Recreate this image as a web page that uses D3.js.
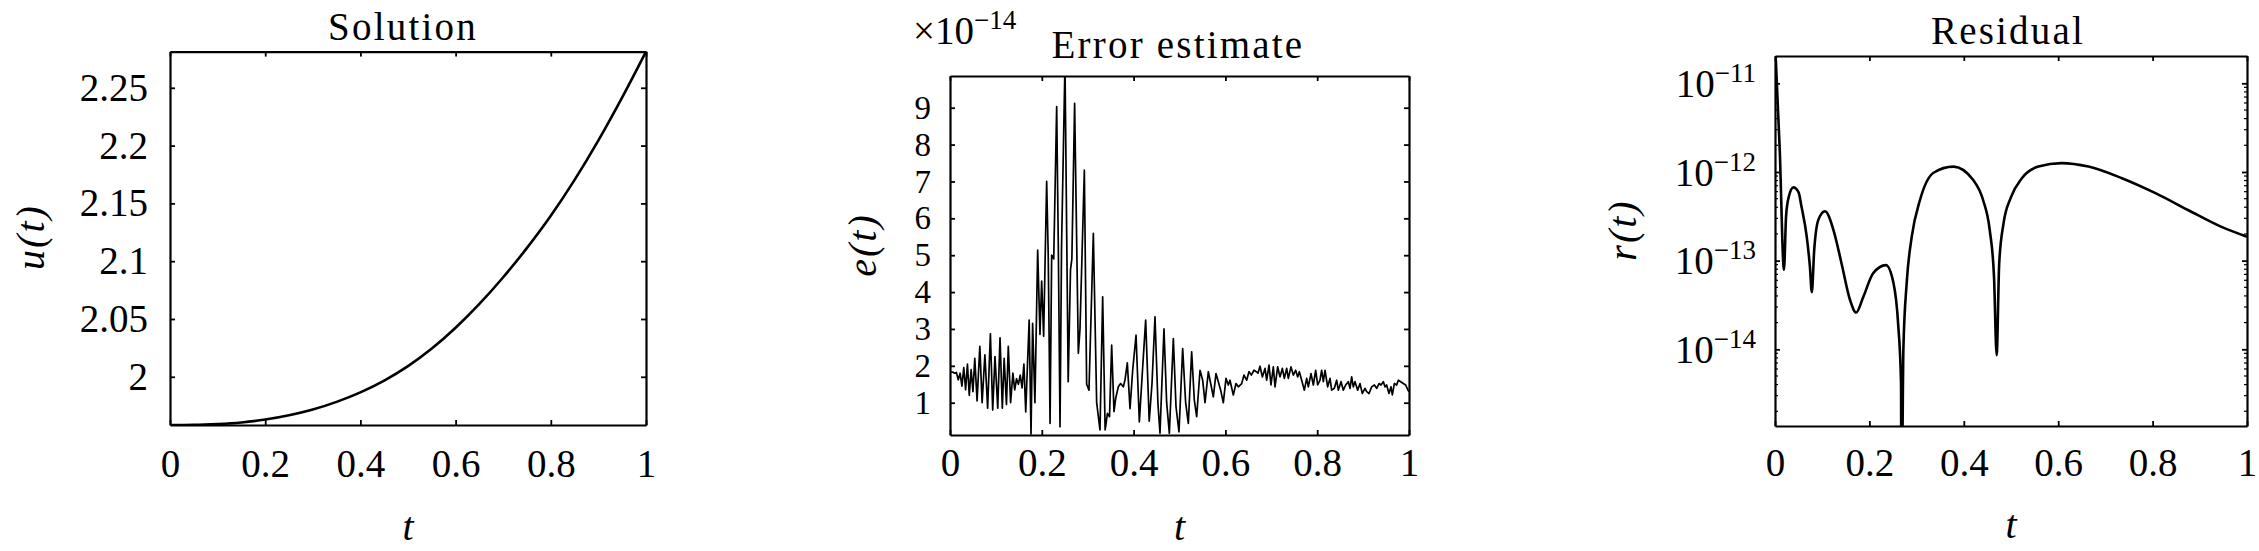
<!DOCTYPE html>
<html>
<head>
<meta charset="utf-8">
<script src="https://cdn.jsdelivr.net/npm/d3@7"></script>
<style>
body { margin: 0; background: #fff; }
svg text { font-family: "Liberation Serif", "Times New Roman", serif; fill: #000; }
</style>
</head>
<body>
<svg id="chart" width="2259" height="551"></svg>
<script>

// ---- data ----
var tTicks = [0, 0.2, 0.4, 0.6, 0.8, 1];

// Solution u(t)
var solT = [0, 0.05, 0.1, 0.15, 0.2, 0.25, 0.3, 0.35, 0.4, 0.45, 0.5, 0.55, 0.6, 0.65, 0.7, 0.75, 0.8, 0.85, 0.9, 0.95, 1];
var solU = [1.9583, 1.9584, 1.9591, 1.9605, 1.9630, 1.9667, 1.9717, 1.9783, 1.9865, 1.9967, 2.0092, 2.0244, 2.0424, 2.0630, 2.0861, 2.1115, 2.1393, 2.1703, 2.2045, 2.2417, 2.2813];
var uTicks = [2, 2.05, 2.1, 2.15, 2.2, 2.25];

// Error estimate e(t), in units of 1e-14
var errT = [0.000, 0.006, 0.010, 0.014, 0.018, 0.022, 0.026, 0.030, 0.034, 0.038, 0.042, 0.046, 0.050, 0.054, 0.059,
  0.065, 0.070, 0.076, 0.082, 0.088, 0.093, 0.098, 0.104, 0.109, 0.114, 0.118, 0.123, 0.127, 0.132, 0.137, 0.141,
  0.145, 0.149, 0.153, 0.157, 0.161, 0.165, 0.169, 0.1725, 0.1765, 0.180, 0.185, 0.191, 0.196, 0.1997, 0.204,
  0.2106, 0.214, 0.218, 0.2215, 0.226, 0.2324, 0.236, 0.2397, 0.243, 0.2505, 0.2575, 0.2625, 0.2655, 0.2715,
  0.2796, 0.2832, 0.2927, 0.2977, 0.3028, 0.3123, 0.3195, 0.3268, 0.3326, 0.3380, 0.3430, 0.3475, 0.3522, 0.3573,
  0.3610, 0.3667, 0.3718, 0.3776, 0.3813, 0.3863, 0.3922, 0.3980, 0.4053, 0.4125, 0.4198, 0.4263, 0.4340, 0.4400,
  0.4466, 0.4530, 0.4575, 0.4662, 0.4720, 0.4779, 0.4866, 0.4924, 0.4989, 0.5069, 0.5134, 0.5192, 0.5265, 0.5323,
  0.5374, 0.5447, 0.5505, 0.5556, 0.5628, 0.5686, 0.5737, 0.5795, 0.5846, 0.5897, 0.5955, 0.6013, 0.6064, 0.6100,
  0.6172, 0.6231, 0.6282, 0.6355, 0.6405, 0.6463, 0.6514, 0.6565, 0.6623, 0.6674, 0.6710, 0.6754, 0.6805, 0.6863,
  0.6899, 0.6950, 0.6993, 0.7044, 0.7081, 0.7139, 0.7190, 0.7240, 0.7284, 0.7335, 0.7371, 0.7429, 0.7480, 0.7531,
  0.7575, 0.7611, 0.7662, 0.7720, 0.7771, 0.7807, 0.7865, 0.7916, 0.7967, 0.8010, 0.8061, 0.8097, 0.8134, 0.8170,
  0.8228, 0.8279, 0.8315, 0.8373, 0.8424, 0.8460, 0.8519, 0.8569, 0.8620, 0.8678, 0.8715, 0.8751, 0.8787, 0.8824,
  0.8882, 0.8932, 0.8983, 0.9041, 0.9078, 0.9129, 0.9187, 0.9245, 0.9296, 0.9347, 0.9390, 0.9441, 0.9477, 0.9513,
  0.9564, 0.9608, 0.9637, 0.9681, 0.9731, 0.9768, 0.9819, 0.9877, 0.9927, 0.9978, 1.0000];
var errE = [1.84, 1.83, 1.80, 1.82, 1.62, 1.80, 1.45, 1.95, 1.35, 2.05, 1.20, 1.90, 1.30, 2.20, 1.05,
  2.53, 1.00, 2.30, 0.85, 2.87, 0.80, 2.25, 0.85, 2.76, 0.85, 2.20, 0.95, 2.53, 1.00, 1.80, 1.35,
  1.65, 1.50, 1.75, 1.40, 2.05, 0.75, 2.10, 3.24, 0.15, 3.15, 1.00, 5.14, 2.85, 4.30, 2.80,
  7.00, 5.00, 0.44, 5.00, 4.90, 9.03, 5.20, 0.35, 5.20, 10.2, 1.57, 4.60, 4.90, 9.12,
  2.34, 3.00, 7.31, 1.50, 1.34, 5.59, 1.00, 0.26, 3.87, 0.26, 0.71, 0.62, 2.56, 0.76,
  1.12, 1.43, 1.52, 1.43, 1.62, 2.08, 0.84, 1.88, 2.83, 0.48, 1.97, 3.24, 0.50, 1.50,
  3.33, 0.98, 0.17, 3.00, 1.00, 0.17, 2.74, 0.89, 0.21, 2.47, 1.00, 0.44, 2.38, 1.07,
  0.62, 1.88, 1.61, 1.00, 1.84, 1.48, 1.16, 1.79, 1.57, 1.34, 1.00, 1.66, 1.48, 1.61,
  1.21, 1.52, 1.43, 1.52, 1.75, 1.61, 1.84, 1.75, 1.88, 1.84, 1.80, 1.99, 1.70, 1.93,
  1.61, 2.02, 1.48, 1.97, 1.43, 1.97, 1.70, 1.93, 1.66, 1.93, 1.66, 1.97, 1.75, 1.88,
  1.70, 1.84, 1.61, 1.34, 1.66, 1.43, 1.79, 1.48, 1.88, 1.48, 1.61, 1.88, 1.57, 1.88,
  1.43, 1.66, 1.34, 1.39, 1.61, 1.34, 1.57, 1.34, 1.48, 1.57, 1.39, 1.70, 1.43, 1.57,
  1.34, 1.52, 1.25, 1.39, 1.30, 1.25, 1.43, 1.48, 1.39, 1.52, 1.48, 1.57, 1.43, 1.48,
  1.25, 1.43, 1.21, 1.52, 1.48, 1.61, 1.57, 1.52, 1.48, 1.34, 1.30];
var eTicks = [1, 2, 3, 4, 5, 6, 7, 8, 9];

// Residual r(t)
var resT = [0.000, 0.010, 0.019, 0.0235, 0.029, 0.039, 0.050, 0.056, 0.067, 0.074, 0.078, 0.083, 0.092, 0.106,
  0.124, 0.141, 0.159, 0.172, 0.187, 0.208, 0.235, 0.251, 0.261, 0.267, 0.268, 0.272, 0.279, 0.290, 0.307,
  0.336, 0.378, 0.420, 0.441, 0.455, 0.464, 0.4696, 0.475, 0.484, 0.500, 0.523, 0.558, 0.607, 0.664, 0.735,
  0.805, 0.876, 0.946, 1.000];
var resR = [3.0e-11, 1.8e-12, 7.9e-14, 3.2e-13, 5.2e-13, 6.7e-13, 5.9e-13, 4.1e-13, 1.9e-13, 8.5e-14, 4.4e-14, 1.3e-13, 2.9e-13, 3.6e-13,
  2.2e-13, 9.3e-14, 3.6e-14, 2.6e-14, 3.9e-14, 7.2e-14, 8.9e-14, 5.6e-14, 1.9e-14, 4.2e-15, 1e-16, 1.0e-14, 5.6e-14, 1.9e-13, 4.8e-13,
  9.8e-13, 1.15e-12, 8.1e-13, 4.8e-13, 2.2e-13, 6.6e-14, 8.6e-15, 9.3e-14, 2.6e-13, 5.2e-13, 8.5e-13, 1.15e-12, 1.26e-12, 1.15e-12, 8.5e-13,
  5.8e-13, 3.7e-13, 2.4e-13, 1.86e-13];
var rTicks = [1e-14, 1e-13, 1e-12, 1e-11];

// ---- drawing ----
var svg = d3.select("#chart");
var FONT = 39;

function fmtT(d) { return String(d); }

function addAxes(g, x, y, o) {
  var w = x.range()[1], h = y.range()[0];
  var bottom = g.append("g").attr("transform", "translate(0," + h + ")")
    .call(d3.axisBottom(x).tickValues(tTicks).tickFormat(fmtT).tickSizeInner(-5).tickSizeOuter(0));
  bottom.selectAll(".tick text").attr("y", o.xLabelY).attr("dy", null);
  var top = g.append("g")
    .call(d3.axisTop(x).tickValues(tTicks).tickSizeInner(-5).tickSizeOuter(0));
  var left = g.append("g")
    .call(d3.axisLeft(y).tickValues(o.yTicks).tickFormat(o.yFmt).tickSizeInner(-5).tickSizeOuter(0).tickPadding(o.pad));
  var right = g.append("g").attr("transform", "translate(" + w + ",0)")
    .call(d3.axisRight(y).tickValues(o.yTicks).tickSizeInner(-5).tickSizeOuter(0));
  // box sides carry ticks only
  top.selectAll(".tick text").remove();
  right.selectAll(".tick text").remove();
  [bottom, top, left, right].forEach(function(a) {
    a.attr("font-size", FONT);
    a.select(".domain").attr("stroke-width", 2.2);
    a.selectAll(".tick line").attr("stroke-width", 1.8);
  });
  return left;
}

function clipFor(g, id, w, h) {
  svg.append("clipPath").attr("id", id).append("rect").attr("width", w).attr("height", h);
  return g.append("g").attr("clip-path", "url(#" + id + ")");
}

function title(x, y, s) {
  svg.append("text").attr("x", x).attr("y", y).attr("text-anchor", "middle")
    .attr("font-size", 39).attr("letter-spacing", 2.2).text(s);
}

function xLabel(x, y) {
  svg.append("text").attr("x", x).attr("y", y).attr("text-anchor", "middle")
    .attr("font-size", 40).attr("font-style", "italic").text("t");
}

function yLabel(x, y, s) {
  svg.append("text").attr("transform", "translate(" + x + "," + y + ") rotate(-90)")
    .attr("text-anchor", "middle").attr("font-size", 40).attr("font-style", "italic")
    .attr("letter-spacing", 2).text(s);
}

// panel 1: Solution
(function() {
  var L = 170, T = 51.6, W = 476, H = 373.4;
  var g = svg.append("g").attr("transform", "translate(" + L + "," + T + ")");
  var x = d3.scaleLinear().domain([0, 1]).range([0, W]);
  var y = d3.scaleLinear().domain([1.9583, 2.2813]).range([H, 0]);
  var c = clipFor(g, "clip1", W, H);
  c.append("path").datum(d3.range(solT.length))
    .attr("fill", "none").attr("stroke", "#000").attr("stroke-width", 2.6)
    .attr("d", d3.line().x(function(i) { return x(solT[i]); }).y(function(i) { return y(solU[i]); }).curve(d3.curveMonotoneX));
  addAxes(g, x, y, { yTicks: uTicks, yFmt: function(d) { return String(d); }, pad: 22, xLabelY: 52 });
  title(403, 40, "Solution");
  xLabel(L + W / 2, 540);
  yLabel(44, 237, "u(t)");
})();

// panel 2: Error estimate
(function() {
  var L = 950, T = 76, W = 459, H = 359;
  var g = svg.append("g").attr("transform", "translate(" + L + "," + T + ")");
  var x = d3.scaleLinear().domain([0, 1]).range([0, W]);
  var y = d3.scaleLinear().domain([0.124, 9.86]).range([H, 0]);
  var c = clipFor(g, "clip2", W, H);
  c.append("path").datum(d3.range(errT.length))
    .attr("fill", "none").attr("stroke", "#000").attr("stroke-width", 1.7).attr("stroke-linejoin", "round")
    .attr("d", d3.line().x(function(i) { return x(errT[i]); }).y(function(i) { return y(errE[i]); }));
  var left = addAxes(g, x, y, { yTicks: eTicks, yFmt: function(d) { return String(d); }, pad: 19, xLabelY: 41 });
  // ticks are only ~37px apart here, so the labels are set a little smaller
  left.selectAll(".tick text").attr("font-size", 33);
  var ex = svg.append("text").attr("x", 913).attr("y", 44).attr("font-size", 39);
  ex.append("tspan").text("×10");
  ex.append("tspan").attr("font-size", 27).attr("dy", -15).text("−14");
  title(1178, 58, "Error estimate");
  xLabel(L + W / 2, 540);
  yLabel(876, 245, "e(t)");
})();

// panel 3: Residual
(function() {
  var L = 1775, T = 56, W = 472, H = 370;
  var g = svg.append("g").attr("transform", "translate(" + L + "," + T + ")");
  var x = d3.scaleLinear().domain([0, 1]).range([0, W]);
  var y = d3.scaleLog().domain([Math.pow(10, -14.865), Math.pow(10, -10.692)]).range([H, 0]);
  var c = clipFor(g, "clip3", W, H);
  c.append("path").datum(d3.range(resT.length))
    .attr("fill", "none").attr("stroke", "#000").attr("stroke-width", 2.6).attr("stroke-linejoin", "round")
    .attr("d", d3.line().x(function(i) { return x(resT[i]); }).y(function(i) { return y(resR[i]); }).curve(d3.curveMonotoneX));
  var left = addAxes(g, x, y, { yTicks: rTicks, yFmt: function() { return "x"; }, pad: 19, xLabelY: 50 });
  left.selectAll(".tick text").each(function(d) {
    var s = d3.select(this).text(null).attr("dy", "0.34em");
    s.append("tspan").text("10");
    s.append("tspan").attr("font-size", 27).attr("dy", -15).text("−" + Math.round(-Math.log10(d)));
  });
  // minor log ticks on both sides
  var minor = [];
  for (var k = -15; k <= -11; k++) {
    for (var m = 2; m <= 9; m++) {
      var v = m * Math.pow(10, k);
      if (v > y.domain()[0] && v < y.domain()[1]) minor.push(v);
    }
  }
  g.append("g").selectAll("line").data(minor).enter().append("line")
    .attr("x1", 0).attr("x2", 3).attr("y1", function(d) { return y(d); }).attr("y2", function(d) { return y(d); })
    .attr("stroke", "#000").attr("stroke-width", 1.2);
  g.append("g").selectAll("line").data(minor).enter().append("line")
    .attr("x1", W - 3).attr("x2", W).attr("y1", function(d) { return y(d); }).attr("y2", function(d) { return y(d); })
    .attr("stroke", "#000").attr("stroke-width", 1.2);
  title(2008, 44, "Residual");
  xLabel(L + W / 2, 538);
  yLabel(1636, 230, "r(t)");
})();

</script>
</body>
</html>
